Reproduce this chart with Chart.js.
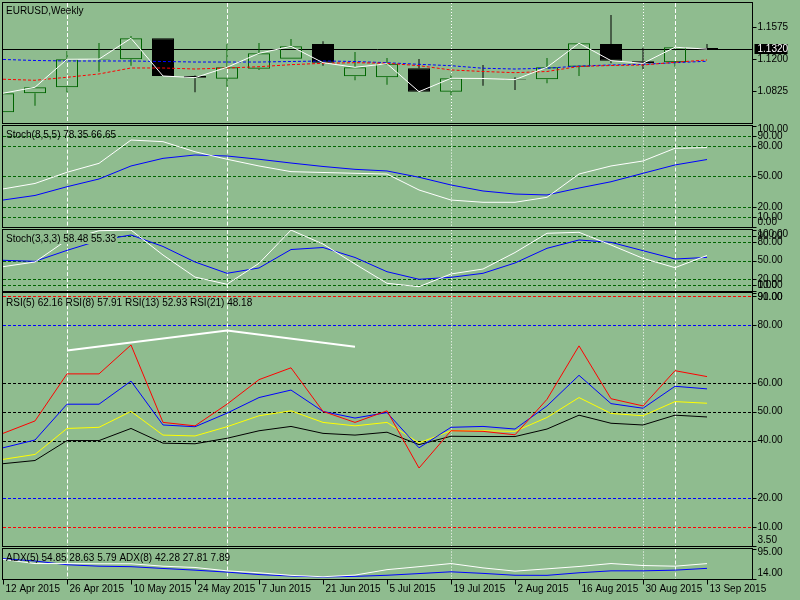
<!DOCTYPE html>
<html>
<head>
<meta charset="utf-8">
<title>EURUSD Weekly</title>
<script src="https://cdn.jsdelivr.net/npm/chart.js@4.4.1/dist/chart.umd.min.js"></script>
<style>
  html, body { margin: 0; padding: 0; background: #8fbc8f; }
  #wrap { position: relative; width: 800px; height: 600px; overflow: hidden; }
  #wrap canvas { position: absolute; left: 0; top: 0; }
</style>
</head>
<body>
<div id="wrap">
  <canvas id="priceChart" width="800" height="600"></canvas>
  <canvas id="stochSlow" width="800" height="600"></canvas>
  <canvas id="stochFast" width="800" height="600"></canvas>
  <canvas id="rsiChart" width="800" height="600"></canvas>
  <canvas id="adxChart" width="800" height="600"></canvas>
</div>
<script>
// weekly bars
var weeks = ['12 Apr 2015', '19 Apr 2015', '26 Apr 2015', '3 May 2015', '10 May 2015', '17 May 2015',
  '24 May 2015', '31 May 2015', '7 Jun 2015', '14 Jun 2015', '21 Jun 2015', '28 Jun 2015', '5 Jul 2015',
  '12 Jul 2015', '19 Jul 2015', '26 Jul 2015', '2 Aug 2015', '9 Aug 2015', '16 Aug 2015', '23 Aug 2015',
  '30 Aug 2015', '6 Sep 2015', '13 Sep 2015'];

var open  = [1.0579, 1.0802, 1.0872, 1.1198, 1.1200, 1.1446, 1.1004, 1.0973, 1.1090, 1.1207, 1.1379, 1.1001,
  1.0989, 1.1095, 1.0820, 1.0977, 1.0970, 1.0966, 1.1113, 1.1379, 1.1177, 1.1165, 1.1332];
var high  = [1.0802, 1.0875, 1.1297, 1.1391, 1.1473, 1.1446, 1.1010, 1.1376, 1.1391, 1.1438, 1.1411, 1.1285,
  1.1215, 1.1203, 1.1012, 1.1133, 1.0989, 1.1215, 1.1390, 1.1719, 1.1336, 1.1345, 1.1379];
var low   = [1.0579, 1.0656, 1.0813, 1.1055, 1.1125, 1.1004, 1.0813, 1.0879, 1.1075, 1.1207, 1.1125, 1.0954,
  1.0902, 1.0820, 1.0782, 1.0891, 1.0840, 1.0919, 1.1004, 1.1153, 1.1083, 1.1113, 1.1315];
var close = [1.0802, 1.0872, 1.1200, 1.1202, 1.1446, 1.1004, 1.0985, 1.1106, 1.1270, 1.1352, 1.1160, 1.1106,
  1.1148, 1.0820, 1.0977, 1.0975, 1.0962, 1.1106, 1.1388, 1.1184, 1.1153, 1.1341, 1.1320];

// moving averages on the price panel
var maRed  = [1.0966, 1.0954, 1.0989, 1.1028, 1.1098, 1.1098, 1.1086, 1.1098, 1.1113, 1.1137, 1.1153, 1.1160,
  1.1153, 1.1125, 1.1075, 1.1057, 1.1043, 1.1057, 1.1116, 1.1127, 1.1133, 1.1165, 1.1192];
var maBlue = [1.1198, 1.1186, 1.1180, 1.1180, 1.1180, 1.1174, 1.1168, 1.1168, 1.1168, 1.1174, 1.1180, 1.1174,
  1.1160, 1.1141, 1.1125, 1.1095, 1.1086, 1.1095, 1.1121, 1.1133, 1.1141, 1.1160, 1.1177];

// Stoch(8,5,5)
var stochMain   = [37.7, 43.1, 54.1, 62.9, 85.8, 84.2, 74.3, 66.9, 60.3, 54.7, 53.9, 53.1, 52.4, 36.7, 26.8,
  24.6, 24.6, 29.5, 52.4, 60.3, 65.2, 77.7, 78.35];
var stochSignal = [26.8, 31.3, 39.9, 47.5, 60.3, 67.8, 71.1, 70.1, 66.9, 63.2, 59.8, 57.0, 55.4, 49.2, 41.6,
  35.7, 32.7, 31.8, 38.6, 44.8, 53.1, 61.3, 66.65];

// Stoch(3,3,3)
var fastMain   = [40.1, 47.8, 83.8, 99.0, 100, 59.2, 23.1, 11.3, 45.6, 100, 77.2, 44.5, 12.9, 7.4, 28.2, 36.3,
  63.3, 94.8, 96.4, 75.6, 53.8, 38.5, 58.48];
var fastSignal = [50.6, 48.9, 66.8, 83.0, 92.0, 73.2, 47.8, 29.3, 38.0, 68.2, 71.5, 55.2, 31.9, 19.5, 22.7,
  29.3, 46.2, 70.2, 83.8, 80.0, 66.3, 52.7, 55.33];

// RSI 5 / 8 / 13 / 21
var rsi5  = [42.5, 46.8, 63.1, 63.1, 73.1, 46.3, 45.1, 52.6, 61.1, 65.2, 50.1, 46.3, 50.3, 30.5, 43.4, 43.2,
  42.0, 54.3, 72.8, 54.5, 52.0, 64.2, 62.16];
var rsi8  = [37.5, 40.2, 52.6, 52.6, 60.6, 45.4, 44.8, 49.5, 54.9, 57.5, 50.1, 47.8, 49.7, 37.5, 44.6, 44.9,
  44.0, 52.0, 62.6, 52.8, 51.2, 58.8, 57.91];
var rsi13 = [33.5, 35.2, 44.2, 44.6, 50.1, 41.9, 41.6, 44.8, 48.6, 50.3, 46.3, 45.1, 46.3, 39.2, 43.4, 43.4,
  43.2, 48.0, 54.9, 49.4, 48.6, 53.5, 52.93];
var rsi21 = [32.0, 33.1, 40.0, 40.0, 44.2, 39.1, 38.9, 40.8, 43.4, 44.9, 42.5, 41.9, 42.9, 38.6, 41.5, 41.4,
  41.4, 44.0, 48.8, 46.0, 45.4, 48.8, 48.18];
// hand drawn trend line on the RSI window (week index, value)
var trendWeeks  = [2, 7, 11];
var trendValues = [71.2, 78.1, 72.5];

// ADX main lines
var adx5 = [66.0, 55.0, 55.0, 54.5, 54.5, 48.0, 44.6, 35.7, 30.5, 23.7, 20.0, 24.4, 38.8, 46.7, 55.0, 43.5,
  34.9, 40.9, 47.2, 55.0, 49.8, 48.0, 54.85];
var adx8 = [68.1, 61.8, 51.9, 48.0, 46.7, 42.0, 37.5, 32.3, 25.8, 21.8, 19.2, 21.0, 23.9, 28.4, 33.1, 28.9,
  23.9, 23.7, 30.5, 35.7, 35.7, 37.5, 42.28];

// axis ticks and levels
var priceTicks = [1.1575, 1.1200, 1.0825];
var lastPrice = 1.1320;
var stochTicks = [100, 90, 80, 50, 20, 10, 0];
var stochLevels = [90, 80, 50, 20, 10];
var rsiTicks = [91, 90, 80, 60, 50, 40, 20, 10, 3.5];
var rsiLevels = [90, 80, 60, 50, 40, 20, 10];
var adxTicks = [95, 14];
var dateTicks = weeks.filter(function (w, i) { return i % 2 === 0; });
var dashedSeps = [2, 7, 21];
var dottedSeps = [14, 20];

var BG = '#8fbc8f';
var FONT = '10px "Liberation Sans", Arial, sans-serif';

function pts(arr) {
  return arr.map(function (v, i) { return { x: i, y: v }; });
}

function line(arr, color, extra) {
  var ds = { type: 'line', data: pts(arr), borderColor: color, borderWidth: 1, pointRadius: 0, tension: 0, order: 0 };
  for (var k in extra) ds[k] = extra[k];
  return ds;
}

var panelPlugin = {
  id: 'panel',
  beforeDatasetsDraw: function (chart, args, o) {
    var ctx = chart.ctx, a = chart.chartArea;
    var xs = chart.scales.x, ys = chart.scales.y;
    ctx.save();
    ctx.lineWidth = 1;
    ctx.setLineDash([3, 2]);
    (o.levels || []).forEach(function (v, i) {
      var py = Math.round(ys.getPixelForValue(v)) + 0.5;
      ctx.strokeStyle = o.levelColors[i];
      ctx.beginPath(); ctx.moveTo(a.left, py); ctx.lineTo(a.right, py); ctx.stroke();
    });
    ctx.strokeStyle = '#ffffff';
    ctx.setLineDash([4, 2]);
    dashedSeps.forEach(function (i) {
      var px = Math.round(xs.getPixelForValue(i)) + 0.5;
      ctx.beginPath(); ctx.moveTo(px, a.top); ctx.lineTo(px, a.bottom); ctx.stroke();
    });
    ctx.setLineDash([1, 2]);
    dottedSeps.forEach(function (i) {
      var px = Math.round(xs.getPixelForValue(i)) + 0.5;
      ctx.beginPath(); ctx.moveTo(px, a.top); ctx.lineTo(px, a.bottom); ctx.stroke();
    });
    if (o.price) {
      ctx.setLineDash([]);
      ctx.strokeStyle = '#000000';
      var pp = Math.round(ys.getPixelForValue(o.price)) + 0.5;
      ctx.beginPath(); ctx.moveTo(a.left, pp); ctx.lineTo(a.right, pp); ctx.stroke();
    }
    ctx.restore();
  },
  afterDatasetsDraw: function (chart, args, o) {
    var ctx = chart.ctx, a = chart.chartArea;
    var xs = chart.scales.x, ys = chart.scales.y;
    ctx.save();
    ctx.font = FONT;
    ctx.lineWidth = 1;
    ctx.strokeStyle = '#000000';
    ctx.fillStyle = '#000000';

    // window caption
    var ty = a.top + o.titleOffset;
    if (o.titleBg) {
      var w = ctx.measureText(o.title).width;
      ctx.fillStyle = BG;
      ctx.fillRect(a.left, ty - 8.5, w + 4, 11);
      ctx.fillStyle = '#000000';
    }
    ctx.textBaseline = 'alphabetic';
    ctx.textAlign = 'left';
    ctx.fillText(o.title, 6, ty);

    // frame
    var fl = Math.round(a.left) - 0.5, fr = Math.round(a.right) + 0.5;
    var ft = Math.round(a.top) - 0.5, fb = Math.round(a.bottom) + 0.5;
    ctx.strokeRect(fl, ft, fr - fl, fb - ft);

    // right axis labels
    ctx.textBaseline = 'middle';
    o.ticks.forEach(function (v) {
      var py = ys.getPixelForValue(v);
      var ry = Math.round(py) + 0.5;
      ctx.beginPath(); ctx.moveTo(fr, ry); ctx.lineTo(fr + 4, ry); ctx.stroke();
      var ly = Math.min(Math.max(py, a.top + 4), a.bottom - 5.5);
      ctx.fillText(v.toFixed(o.digits), fr + 5, ly);
    });

    if (o.price) {
      var bp = ys.getPixelForValue(o.price);
      ctx.fillRect(fr + 2, Math.round(bp) - 5, 33, 10);
      ctx.fillStyle = '#ffffff';
      ctx.fillText(o.price.toFixed(o.digits), fr + 5, bp);
      ctx.fillStyle = '#000000';
    }

    // time axis
    if (o.dates) {
      ctx.textBaseline = 'alphabetic';
      dateTicks.forEach(function (label, k) {
        var px = Math.round(xs.getPixelForValue(k * 2)) + 0.5;
        ctx.beginPath(); ctx.moveTo(px, fb); ctx.lineTo(px, fb + 5); ctx.stroke();
        ctx.fillText(label, px + 2, fb + 12);
      });
    }
    ctx.restore();
  }
};

function makePanel(id, type, top, bottom, yMin, yMax, datasets, panel) {
  return new Chart(document.getElementById(id), {
    type: type,
    data: { datasets: datasets },
    options: {
      responsive: false,
      animation: false,
      devicePixelRatio: 1,
      events: [],
      layout: { padding: { left: 3, right: 48, top: top, bottom: 600 - bottom } },
      scales: {
        x: { type: 'linear', min: 0, max: 23.406, offset: false, display: false },
        y: { type: 'linear', min: yMin, max: yMax, display: false }
      },
      plugins: { legend: { display: false }, tooltip: { enabled: false }, panel: panel }
    },
    plugins: [panelPlugin]
  });
}

// candles as floating bars
var isBull = close.map(function (c, i) { return c >= open[i]; });
var bodies = open.map(function (o, i) { return { x: i, y: [o, close[i]] }; });
var upperWicks = high.map(function (h, i) { return { x: i, y: [Math.max(open[i], close[i]), h] }; });
var lowerWicks = low.map(function (l, i) { return { x: i, y: [l, Math.min(open[i], close[i])] }; });
function candleColor(c) { return isBull[c.dataIndex] ? '#006400' : '#000000'; }

makePanel('priceChart', 'bar', 3, 123, 1.0453, 1.1860, [
  { data: upperWicks, backgroundColor: candleColor, borderWidth: 0, barThickness: 1, grouped: false, inflateAmount: 0, order: 4 },
  { data: lowerWicks, backgroundColor: candleColor, borderWidth: 0, barThickness: 1, grouped: false, inflateAmount: 0, order: 4 },
  { data: bodies, barThickness: 22, grouped: false, borderSkipped: false, borderWidth: 1, inflateAmount: 0, order: 3,
    borderColor: candleColor,
    backgroundColor: function (c) { return isBull[c.dataIndex] ? 'rgba(0,0,0,0)' : '#000000'; } },
  line(maRed, '#ff0000', { borderDash: [3, 2], order: 1 }),
  line(maBlue, '#0000ff', { borderDash: [3, 2], order: 1 }),
  line(close, '#ffffff', { order: 0 })
], { title: 'EURUSD,Weekly', titleOffset: 10.5, ticks: priceTicks, digits: 4, price: lastPrice, levels: [] });

var greens = stochLevels.map(function () { return '#006400'; });

makePanel('stochSlow', 'line', 125.6, 227.3, 0, 100, [
  line(stochMain, '#ffffff'),
  line(stochSignal, '#0000ff')
], { title: 'Stoch(8,5,5) 78.35 66.65', titleOffset: 12.4, ticks: stochTicks, digits: 2,
  levels: stochLevels, levelColors: greens });

makePanel('stochFast', 'line', 230.1, 291.2, 0, 100, [
  line(fastMain, '#ffffff'),
  line(fastSignal, '#0000ff')
], { title: 'Stoch(3,3,3) 58.48 55.33', titleOffset: 11.4, titleBg: true, ticks: stochTicks, digits: 2,
  levels: stochLevels, levelColors: greens });

makePanel('rsiChart', 'line', 293.3, 546, 3.5, 91, [
  { type: 'line', data: trendWeeks.map(function (w, i) { return { x: w, y: trendValues[i] }; }),
    borderColor: '#ffffff', borderWidth: 2, pointRadius: 0, tension: 0 },
  line(rsi5, '#ff0000'),
  line(rsi8, '#0000ff'),
  line(rsi13, '#ffff00'),
  line(rsi21, '#000000')
], { title: 'RSI(5) 62.16 RSI(8) 57.91 RSI(13) 52.93 RSI(21) 48.18', titleOffset: 12.7, ticks: rsiTicks, digits: 2,
  levels: rsiLevels, levelColors: ['#ff0000', '#0000ff', '#000000', '#000000', '#000000', '#0000ff', '#ff0000'] });

makePanel('adxChart', 'line', 548.5, 579, 14, 95, [
  line(adx5, '#ffffff'),
  line(adx8, '#0000ff')
], { title: 'ADX(5) 54.85 28.63 5.79 ADX(8) 42.28 27.81 7.89', titleOffset: 12.5, ticks: adxTicks, digits: 2,
  levels: [], dates: true });
</script>
</body>
</html>
